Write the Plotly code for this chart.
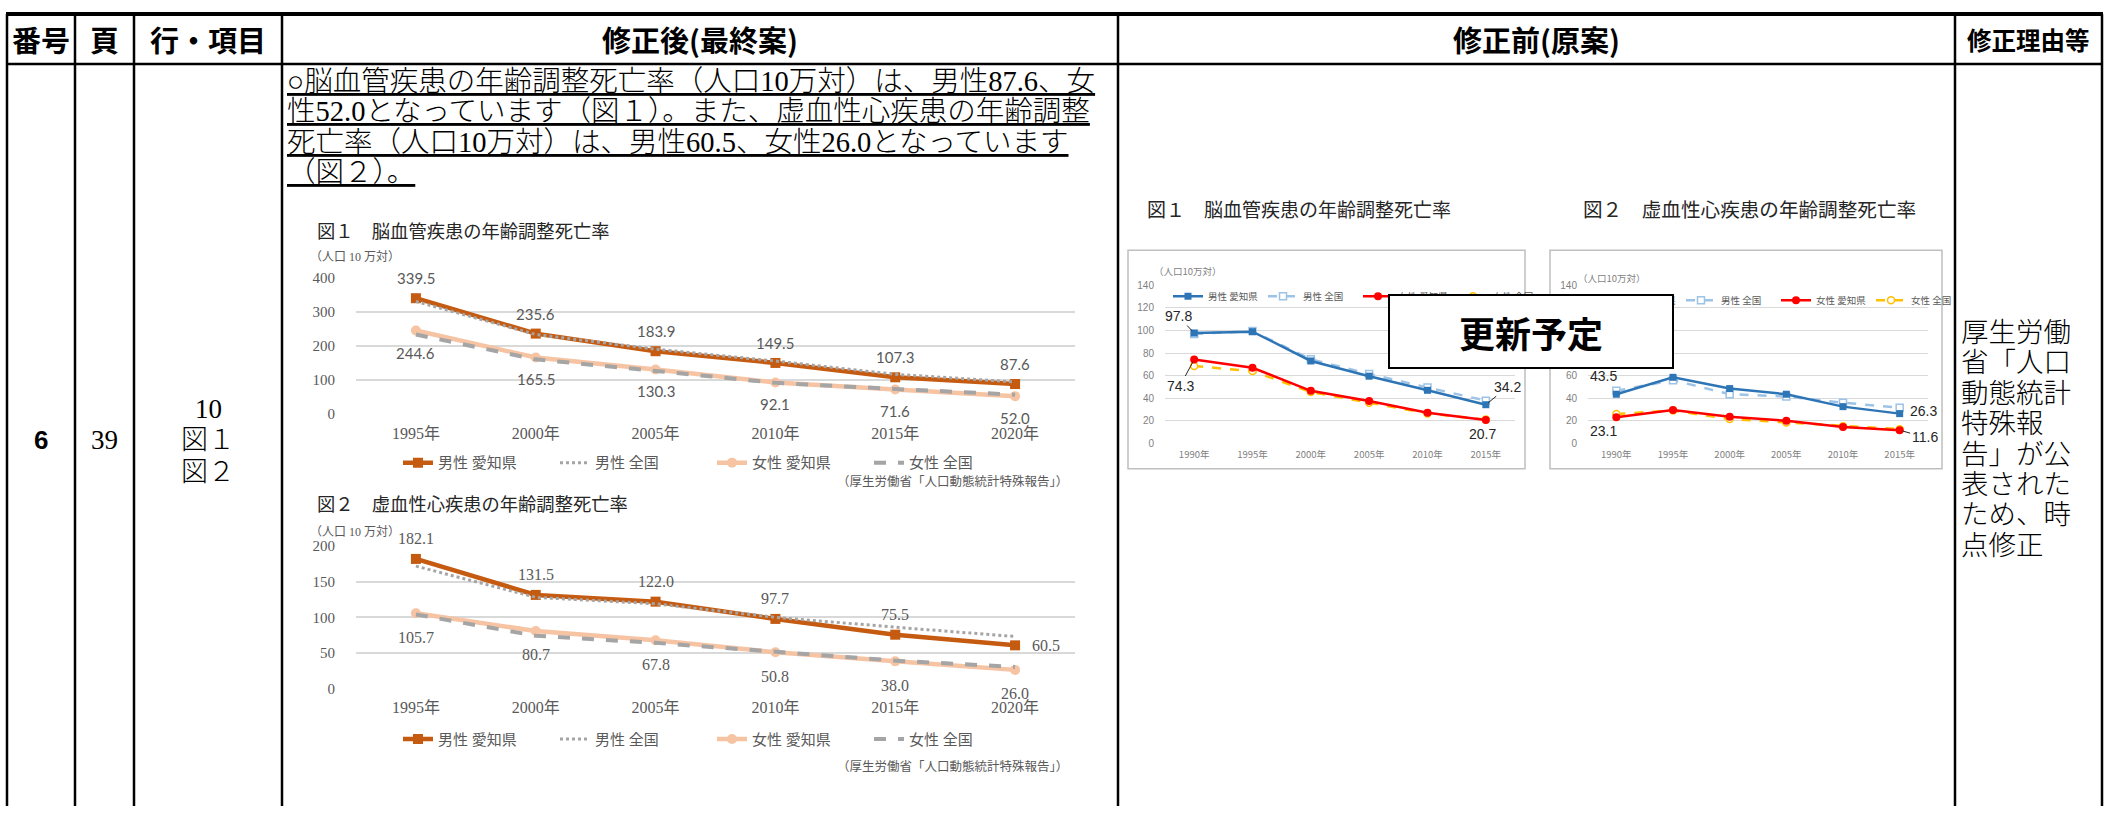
import plotly.graph_objects as go

W, H = 2120, 814


def fx(x):
    return x / W


def fy(y):
    return 1 - y / H


# ---------------- data ----------------
years_new = ["1995年", "2000年", "2005年", "2010年", "2015年", "2020年"]
cv_male_aichi = [339.5, 235.6, 183.9, 149.5, 107.3, 87.6]
cv_male_japan = [330.0, 233.0, 190.0, 155.0, 116.0, 93.8]
cv_female_aichi = [244.6, 165.5, 130.3, 92.1, 71.6, 52.0]
cv_female_japan = [233.0, 160.0, 126.0, 91.0, 73.0, 56.4]
ihd_male_aichi = [182.1, 131.5, 122.0, 97.7, 75.5, 60.5]
ihd_male_japan = [172.0, 128.0, 119.0, 100.0, 86.0, 73.0]
ihd_female_aichi = [105.7, 80.7, 67.8, 50.8, 38.0, 26.0]
ihd_female_japan = [104.0, 74.0, 64.0, 51.0, 39.0, 30.2]

years_old = ["1990年", "1995年", "2000年", "2005年", "2010年", "2015年"]
old_cv_male_aichi = [97.8, 99.0, 73.0, 59.5, 47.0, 34.2]
old_cv_male_japan = [97.0, 99.5, 74.5, 61.5, 49.5, 37.8]
old_cv_female_aichi = [74.3, 67.0, 46.5, 37.5, 27.0, 20.7]
old_cv_female_japan = [68.5, 64.0, 45.5, 36.0, 26.5, 21.0]
old_ihd_male_aichi = [43.5, 58.5, 48.5, 43.5, 32.5, 26.3]
old_ihd_male_japan = [46.5, 56.0, 43.5, 41.5, 36.0, 31.5]
old_ihd_female_aichi = [23.1, 29.6, 23.5, 20.0, 14.5, 11.6]
old_ihd_female_japan = [26.0, 29.0, 21.5, 18.5, 15.0, 12.5]

series_names = ["男性 愛知県", "男性 全国", "女性 愛知県", "女性 全国"]

# old chart 2 tick labels: 80-120 are hidden behind the "更新予定" box in the reference
old_ticks = [0, 20, 40, 60, 80, 100, 120, 140]
old2_ticktext = ["0", "20", "40", "60", "", "", "", "140"]

header_cells = ["番号", "頁", "行・項目", "修正後(最終案)", "修正前(原案)", "修正理由等"]
body_lines = [
    "○脳血管疾患の年齢調整死亡率（人口10万対）は、男性87.6、女",
    "性52.0となっています（図１）。また、虚血性心疾患の年齢調整",
    "死亡率（人口10万対）は、男性60.5、女性26.0となっています",
    "（図２）。",
]
reason_lines = ["厚生労働", "省「人口", "動態統計", "特殊報", "告」が公", "表された", "ため、時", "点修正"]
item_lines = ["10", "図１", "図２"]

SERIF = "Liberation Serif, Noto Sans CJK JP"
GOTHIC = "Noto Sans CJK JP"
GRAY_TXT = "#595959"

fig = go.Figure()


def add_series(xa, ya, xs, ys, name, color, width, dash, symbol, msize, legend, rank, open_marker=False):
    mode = "lines+markers" if symbol else "lines"
    marker = dict(symbol=symbol or "circle", size=msize, color="white" if open_marker else color,
                  line=dict(color=color, width=1.5 if open_marker else 0))
    fig.add_trace(go.Scatter(
        x=xs, y=ys, name=name, mode=mode,
        line=dict(color=color, width=width, dash=dash),
        marker=marker, xaxis=xa, yaxis=ya, legend=legend, legendrank=rank,
        hoverinfo="skip", cliponaxis=False))


# new chart 1 (cerebrovascular)
add_series("x", "y", years_new, cv_male_aichi, series_names[0], "#C55A11", 4.5, "solid", "square", 10, "legend", 1)
add_series("x", "y", years_new, cv_female_aichi, series_names[2], "#F6C3A3", 4.5, "solid", "circle", 10, "legend", 3)
add_series("x", "y", years_new, cv_male_japan, series_names[1], "#A5A5A5", 3, "dot", None, 0, "legend", 2)
add_series("x", "y", years_new, cv_female_japan, series_names[3], "#A5A5A5", 4, "dash", None, 0, "legend", 4)
# new chart 2 (ischemic heart disease)
add_series("x2", "y2", years_new, ihd_male_aichi, series_names[0], "#C55A11", 4.5, "solid", "square", 10, "legend2", 1)
add_series("x2", "y2", years_new, ihd_female_aichi, series_names[2], "#F6C3A3", 4.5, "solid", "circle", 10, "legend2", 3)
add_series("x2", "y2", years_new, ihd_male_japan, series_names[1], "#A5A5A5", 3, "dot", None, 0, "legend2", 2)
add_series("x2", "y2", years_new, ihd_female_japan, series_names[3], "#A5A5A5", 4, "dash", None, 0, "legend2", 4)
# old chart 1
add_series("x3", "y3", years_old, old_cv_male_japan, series_names[1], "#9DC3E6", 2.5, "dash", "square", 7, "legend3", 2, True)
add_series("x3", "y3", years_old, old_cv_male_aichi, series_names[0], "#2E75B6", 2.5, "solid", "square", 7, "legend3", 1)
add_series("x3", "y3", years_old, old_cv_female_japan, series_names[3], "#FFC000", 2.5, "dash", "circle", 7, "legend3", 4, True)
add_series("x3", "y3", years_old, old_cv_female_aichi, series_names[2], "#FF0000", 2.5, "solid", "circle", 8, "legend3", 3)
# old chart 2
add_series("x4", "y4", years_old, old_ihd_male_japan, series_names[1], "#9DC3E6", 2.5, "dash", "square", 7, "legend4", 2, True)
add_series("x4", "y4", years_old, old_ihd_male_aichi, series_names[0], "#2E75B6", 2.5, "solid", "square", 7, "legend4", 1)
add_series("x4", "y4", years_old, old_ihd_female_japan, series_names[3], "#FFC000", 2.5, "dash", "circle", 7, "legend4", 4, True)
add_series("x4", "y4", years_old, old_ihd_female_aichi, series_names[2], "#FF0000", 2.5, "solid", "circle", 8, "legend4", 3)


def xaxis(dom, anchor, size, color, family, standoff):
    return dict(domain=[fx(dom[0]), fx(dom[1])], anchor=anchor, type="category", range=[-0.5, 5.5],
                showgrid=False, zeroline=False, showline=False, ticks="",
                tickfont=dict(size=size, color=color, family=family),
                ticklabelstandoff=standoff, fixedrange=True)


def yaxis(dom, anchor, rng, dtick, size, color, family, standoff, gw):
    return dict(domain=[fy(dom[1]), fy(dom[0])], anchor=anchor, range=rng, dtick=dtick, tick0=0,
                showgrid=True, gridcolor="#D9D9D9", gridwidth=gw, zeroline=False, showline=False,
                ticks="", tickfont=dict(size=size, color=color, family=family),
                ticklabelstandoff=standoff, fixedrange=True)


y4 = yaxis((283, 444), "x4", [0, 140], 20, 10, "#7F7F7F", "Liberation Sans", 10, 1)
y4.update(tickmode="array", tickvals=old_ticks, ticktext=old2_ticktext)

layout = dict(
    width=W, height=H, margin=dict(l=0, r=0, t=0, b=0),
    paper_bgcolor="white", plot_bgcolor="rgba(0,0,0,0)",
    xaxis=xaxis((356, 1075), "y", 16, GRAY_TXT, SERIF, 8),
    yaxis=yaxis((275, 414), "x", [0, 400], 100, 15, GRAY_TXT, SERIF, 20, 1.5),
    xaxis2=xaxis((356, 1075), "y2", 16, GRAY_TXT, SERIF, 8),
    yaxis2=yaxis((549, 694), "x2", [0, 200], 50, 15, GRAY_TXT, SERIF, 20, 1.5),
    xaxis3=xaxis((1165, 1515), "y3", 9.5, "#7F7F7F", GOTHIC, 4),
    yaxis3=yaxis((283, 444), "x3", [0, 140], 20, 10, "#7F7F7F", "Liberation Sans", 10, 1),
    xaxis4=xaxis((1588, 1928), "y4", 9.5, "#7F7F7F", GOTHIC, 4),
    yaxis4=y4,
    showlegend=True,
)


def legend_cfg(x, y, size, ew, family=SERIF):
    return dict(x=fx(x), y=fy(y), xanchor="left", yanchor="middle", orientation="h",
                font=dict(size=size, color=GRAY_TXT, family=family), bgcolor="rgba(0,0,0,0)",
                entrywidth=ew, entrywidthmode="pixels", itemclick=False, itemdoubleclick=False,
                traceorder="normal")


layout["legend"] = legend_cfg(398, 464, 15, 112)
layout["legend2"] = legend_cfg(398, 746, 15, 112)
layout["legend3"] = legend_cfg(1168, 294, 9.5, 50, GOTHIC)
layout["legend4"] = legend_cfg(1586, 298, 9.5, 50, GOTHIC)
fig.update_layout(**layout)

# ---------------- table lines ----------------
shapes = []
LX, RX, TOP, HB = 7, 2102, 6, 57
col_lines = [LX, 75, 134, 282, 1118, 1955, RX]
shapes.append(dict(type="line", xref="paper", yref="paper", x0=fx(LX - 1), x1=fx(RX + 1), y0=fy(TOP), y1=fy(TOP),
                   line=dict(color="black", width=4)))
shapes.append(dict(type="line", xref="paper", yref="paper", x0=fx(LX), x1=fx(RX), y0=fy(HB), y1=fy(HB),
                   line=dict(color="black", width=2.5)))
for cx in col_lines:
    shapes.append(dict(type="line", xref="paper", yref="paper", x0=fx(cx), x1=fx(cx), y0=fy(TOP), y1=0,
                       line=dict(color="black", width=2.5)))
# old chart frames
for (x0, x1) in [(1128, 1525), (1550, 1942)]:
    shapes.append(dict(type="rect", xref="paper", yref="paper", x0=fx(x0), x1=fx(x1), y0=fy(470), y1=fy(247),
                       line=dict(color="#BFBFBF", width=1.5), fillcolor="rgba(0,0,0,0)", layer="below"))
fig.update_layout(shapes=shapes)

# ---------------- texts ----------------
ann = []


def text(t, x, y, size, family=SERIF, color="black", xanchor="center", yanchor="middle", weight=None):
    f = dict(size=size, family=family, color=color)
    if weight:
        f["weight"] = weight
    ann.append(dict(text=t, x=fx(x), y=fy(y), xref="paper", yref="paper", showarrow=False,
                    xanchor=xanchor, yanchor=yanchor, font=f))


header_x = [41, 104.5, 208, 700, 1536, 2028]
for lbl, hx in zip(header_cells, header_x):
    text(lbl, hx, 32, 24.5 if lbl == "修正理由等" else 29, GOTHIC, weight="bold")

for i, line in enumerate(body_lines):
    text("<u>" + line + "</u>", 285, 75 + 31 * i, 28.5, SERIF, xanchor="left", weight=300)

text("6", 41, 441, 26, "Liberation Sans", weight="bold")
text("39", 104.5, 441, 27, SERIF)
for i, line in enumerate(item_lines):
    text(line, 208, 409 + 32 * i, 27, SERIF, weight=300)

for i, line in enumerate(reason_lines):
    text(line, 1959, 331 + 31 * i, 27.5, SERIF, xanchor="left", weight=300)

# chart titles, units, sources
text("図１　脳血管疾患の年齢調整死亡率", 315, 226, 18.3, GOTHIC, "#262626", xanchor="left")
text("図２　虚血性心疾患の年齢調整死亡率", 315, 505, 18.3, GOTHIC, "#262626", xanchor="left")
text("（人口 10 万対）", 308, 254, 12, SERIF, GRAY_TXT, xanchor="left")
text("（人口 10 万対）", 308, 535, 12, SERIF, GRAY_TXT, xanchor="left")
text("（厚生労働省「人口動態統計特殊報告」）", 1070, 483, 12.5, SERIF, GRAY_TXT, xanchor="right")
text("（厚生労働省「人口動態統計特殊報告」）", 1070, 774, 12.5, SERIF, GRAY_TXT, xanchor="right")
text("図１　脳血管疾患の年齢調整死亡率", 1145, 205, 19, GOTHIC, "#262626", xanchor="left")
text("図２　虚血性心疾患の年齢調整死亡率", 1581, 205, 19.6, GOTHIC, "#262626", xanchor="left")
text("（人口10万対）", 1152, 268, 9.5, GOTHIC, "#7F7F7F", xanchor="left")
text("（人口10万対）", 1576, 275, 9.5, GOTHIC, "#7F7F7F", xanchor="left")


# data labels (positioned in data coordinates)
def data_labels(xref, yref, values, yshift, size, family, xshift_last=None, yshift_last=None):
    for i, v in enumerate(values):
        xs, ys = 0, yshift
        if xshift_last is not None and i == len(values) - 1:
            xs, ys = xshift_last, yshift_last
        ann.append(dict(text=f"{v:.1f}", x=i, y=v, xref=xref, yref=yref, showarrow=False,
                        xshift=xs, yshift=ys, font=dict(size=size, family=family, color=GRAY_TXT)))


data_labels("x", "y", cv_male_aichi, 20, 15, "Lato")
data_labels("x", "y", cv_female_aichi, -22, 15, "Lato")
data_labels("x2", "y2", ihd_male_aichi, 20, 16, SERIF, 31, 0)
data_labels("x2", "y2", ihd_female_aichi, -24, 16, SERIF)

# old chart labels (first and last points)
OLDF = "Liberation Sans"


def old_label(xref, yref, idx, values, ax, ay, arrow):
    v = values[idx]
    d = dict(text=f"{v:.1f}", x=idx, y=v, xref=xref, yref=yref,
             font=dict(size=14, family=OLDF, color="#262626"))
    if arrow:
        d.update(showarrow=True, arrowhead=0, arrowwidth=1, arrowcolor="#262626", ax=ax, ay=ay, standoff=3)
    else:
        d.update(showarrow=False, xshift=ax, yshift=-ay)
    ann.append(d)


old_label("x3", "y3", 0, old_cv_male_aichi, -16, -17, True)
old_label("x3", "y3", 0, old_cv_female_aichi, -14, 26, True)
old_label("x3", "y3", 5, old_cv_male_aichi, 22, -18, True)
old_label("x3", "y3", 5, old_cv_female_aichi, -3, 14, False)
old_label("x4", "y4", 0, old_ihd_male_aichi, -13, -18, False)
old_label("x4", "y4", 0, old_ihd_female_aichi, -13, 14, False)
old_label("x4", "y4", 5, old_ihd_male_aichi, 24, -3, False)
old_label("x4", "y4", 5, old_ihd_female_aichi, 25, 7, True)

# overlay box
ann.append(dict(text="更新予定", x=fx(1531), y=fy(330), xref="paper", yref="paper", showarrow=False,
                xanchor="center", yanchor="middle", width=282, height=71, bgcolor="white",
                bordercolor="black", borderwidth=2, borderpad=0,
                font=dict(size=36, family=GOTHIC, color="black", weight="bold")))

fig.update_layout(annotations=ann)

fig.write_html("out.html", config={"displayModeBar": False},
               post_script="document.body.style.margin='0px';document.body.style.overflow='hidden';")
